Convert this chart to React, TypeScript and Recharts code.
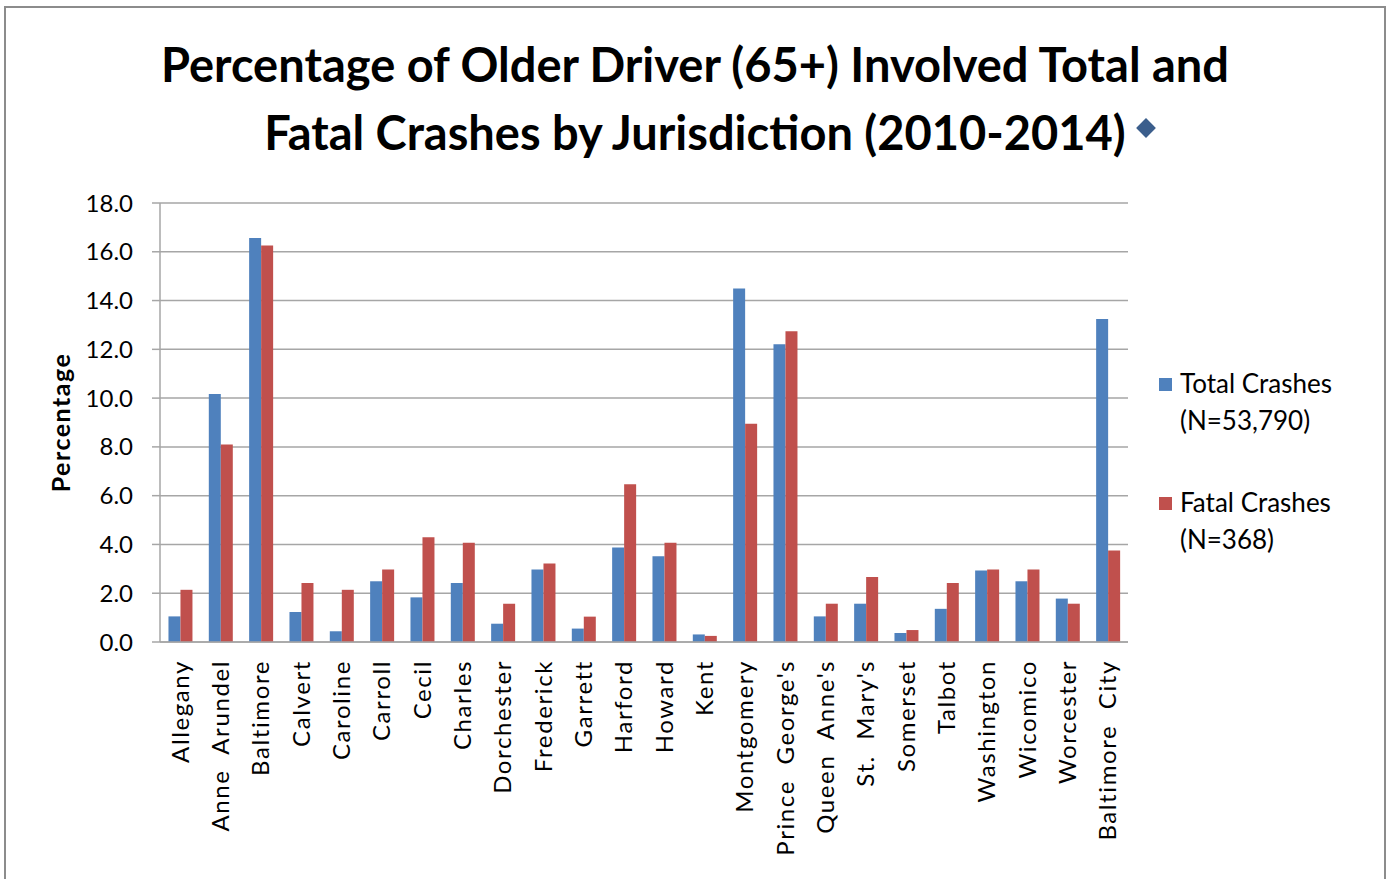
import React from 'react';
import { BarChart, Bar, XAxis, YAxis, CartesianGrid, Label } from 'recharts';

// jurisdictions, in the order shown on the x axis
const jurisdictions = [
  'Allegany', 'Anne  Arundel', 'Baltimore', 'Calvert', 'Caroline', 'Carroll', 'Cecil', 'Charles',
  'Dorchester', 'Frederick', 'Garrett', 'Harford', 'Howard', 'Kent', 'Montgomery', "Prince  George's",
  "Queen  Anne's", "St.  Mary's", 'Somerset', 'Talbot', 'Washington', 'Wicomico', 'Worcester', 'Baltimore  City',
];

const totalCrashes = [
  1.05, 10.17, 16.56, 1.23, 0.44, 2.49, 1.83, 2.42,
  0.75, 2.97, 0.55, 3.87, 3.52, 0.31, 14.49, 12.21,
  1.05, 1.57, 0.37, 1.36, 2.93, 2.49, 1.78, 13.24,
];

const fatalCrashes = [
  2.14, 8.10, 16.26, 2.42, 2.14, 2.97, 4.30, 4.07,
  1.57, 3.22, 1.04, 6.47, 4.07, 0.25, 8.95, 12.74,
  1.57, 2.67, 0.49, 2.42, 2.97, 2.97, 1.57, 3.75,
];

const yTicks = [0, 2, 4, 6, 8, 10, 12, 14, 16, 18];

const data = jurisdictions.map((name, i) => ({
  name,
  total: totalCrashes[i],
  fatal: fatalCrashes[i],
}));

const FONT = 'Lato, "Open Sans", sans-serif';
const BLUE = '#4F81BD';
const RED = '#C0504D';

const CategoryTick = (props: any) => {
  const { x, y, payload } = props;
  return (
    <g transform={`translate(${x},${y})`}>
      <text
        transform="rotate(-90)"
        textAnchor="end"
        dy="0.36em"
        fill="#000"
        style={{ fontFamily: FONT, fontSize: 24, letterSpacing: 1.6, whiteSpace: 'pre' }}
      >
        {payload.value}
      </text>
    </g>
  );
};

const YTitle = (props: any) => {
  const vb = props.viewBox;
  const cx = 60;
  const cy = vb.y + vb.height / 2;
  return (
    <text
      x={cx}
      y={cy}
      transform={`rotate(-90, ${cx}, ${cy})`}
      textAnchor="middle"
      dominantBaseline="central"
      style={{ fontFamily: FONT, fontSize: 25, fontWeight: 700, letterSpacing: 1.5 }}
      fill="#000"
    >
      Percentage
    </text>
  );
};

const legendItems = [
  { color: BLUE, lines: ['Total Crashes', '(N=53,790)'], top: 365 },
  { color: RED, lines: ['Fatal Crashes', '(N=368)'], top: 484 },
];

export default function App() {
  return (
    <div style={{ position: 'fixed', left: 0, top: 0, width: 1391, height: 879, background: '#fff', overflow: 'hidden' }}>
      <div
        style={{
          position: 'absolute', left: 4, top: 6, width: 1382, height: 900,
          border: '2px solid #8c8c8c', boxSizing: 'border-box',
        }}
      />
      <div
        style={{
          position: 'absolute', left: 0, top: 30, width: 1390, textAlign: 'center',
          fontFamily: FONT, fontWeight: 700, fontSize: 47, lineHeight: '68px', color: '#000',
        }}
      >
        <div>Percentage of Older Driver (65+) Involved Total and</div>
        <div>Fatal Crashes by Jurisdiction (2010-2014)</div>
      </div>
      <div
        style={{
          position: 'absolute', left: 1139, top: 121, width: 14, height: 14,
          background: '#3B5E8C', transform: 'rotate(45deg)',
        }}
      />
      <div style={{ position: 'absolute', left: 0, top: 0 }}>
        <BarChart
          width={1391}
          height={879}
          data={data}
          margin={{ top: 203, right: 263, bottom: 37, left: 0 }}
          barCategoryGap="21%"
          barGap={0}
        >
          <CartesianGrid vertical={false} stroke="#a6a6a6" strokeWidth={1.5} />
          <XAxis
            dataKey="name"
            interval={0}
            height={200}
            tickLine={false}
            tickSize={0}
            tickMargin={18}
            axisLine={{ stroke: '#a6a6a6', strokeWidth: 1.5 }}
            tick={<CategoryTick />}
          />
          <YAxis
            width={160}
            domain={[0, 18]}
            ticks={yTicks}
            interval={0}
            tickFormatter={(v: number) => v.toFixed(1)}
            tickSize={8}
            tickMargin={19}
            axisLine={{ stroke: '#a6a6a6', strokeWidth: 1.5 }}
            tickLine={{ stroke: '#a6a6a6', strokeWidth: 1.5 }}
            tick={{ fill: '#000', fontFamily: FONT, fontSize: 24 }}
          >
            <Label content={<YTitle />} />
          </YAxis>
          <Bar dataKey="total" fill={BLUE} isAnimationActive={false} />
          <Bar dataKey="fatal" fill={RED} isAnimationActive={false} />
        </BarChart>
      </div>
      {legendItems.map((item) => (
        <div
          key={item.lines[0]}
          style={{ position: 'absolute', left: 1159, top: item.top, fontFamily: FONT, fontSize: 26, lineHeight: '37px', color: '#000' }}
        >
          <span
            style={{ position: 'absolute', left: 0, top: 13, width: 13, height: 13, background: item.color }}
          />
          <div style={{ paddingLeft: 21 }}>
            {item.lines.map((l) => (
              <div key={l}>{l}</div>
            ))}
          </div>
        </div>
      ))}
    </div>
  );
}
